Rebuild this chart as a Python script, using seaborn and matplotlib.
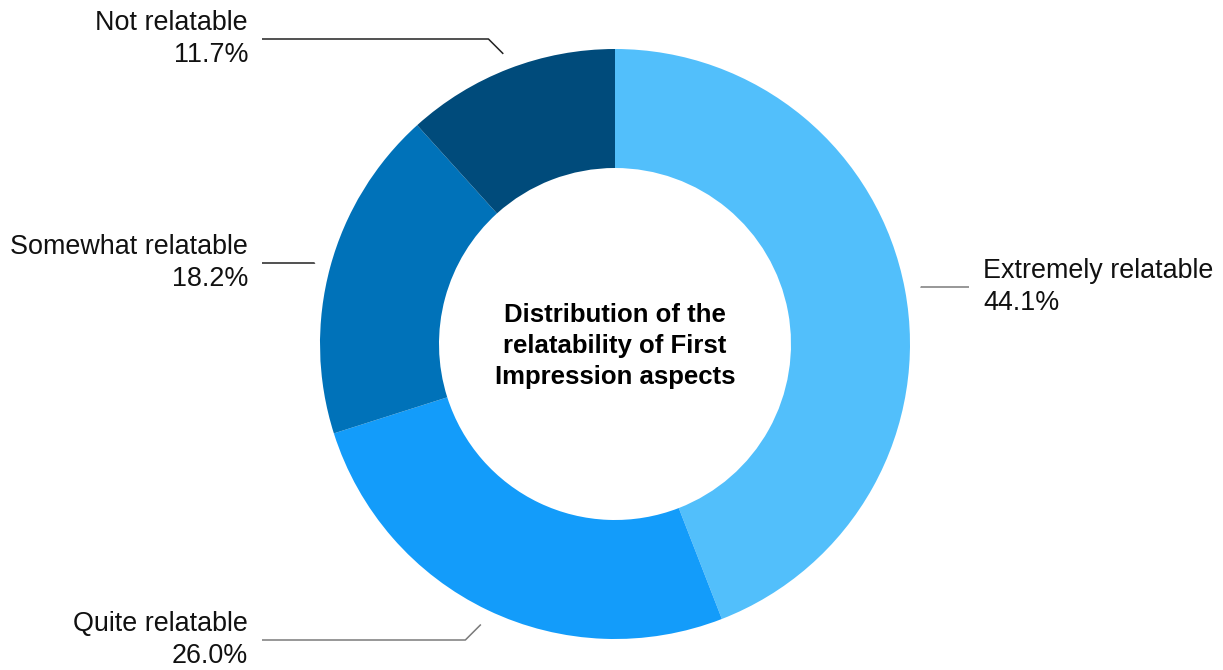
import numpy as np
import matplotlib
matplotlib.use("Agg")
import matplotlib.pyplot as plt
import seaborn as sns

# ---- data ----
categories = ["Extremely relatable", "Quite relatable", "Somewhat relatable", "Not relatable"]
shares = [44.1, 26.0, 18.2, 11.7]
colors = ["#52BFFB", "#139CFA", "#0072B9", "#004B7B"]
center_title = "Distribution of the\nrelatability of First\nImpression aspects"

# ---- layout (pixels, y measured from bottom) ----
W, H = 1223, 670
cx, cy = 615, 670 - 344
R_out, ring = 295, 119
label_y = {"Extremely relatable": 670 - 287, "Quite relatable": 670 - 640,
           "Somewhat relatable": 670 - 263, "Not relatable": 670 - 39}
left_line_end, left_text_x = 262, 248
right_line_end, right_text_x = 969, 983

sns.set_theme(style="white")
plt.rcParams["font.family"] = ["Liberation Sans", "DejaVu Sans"]

fig = plt.figure(figsize=(W / 100, H / 100), dpi=100)
ax = fig.add_axes([0, 0, 1, 1])

wedges, _ = ax.pie(shares, colors=colors, startangle=90, counterclock=False,
                   center=(cx, cy), radius=R_out,
                   wedgeprops=dict(width=ring, linewidth=0), normalize=True)
ax.set_xlim(0, W)
ax.set_ylim(0, H)
ax.set_aspect("equal")
ax.axis("off")

line_colors = {"Extremely relatable": "#7a7a7a", "Quite relatable": "#7a7a7a",
               "Somewhat relatable": "#222222", "Not relatable": "#222222"}

for w, cat, val in zip(wedges, categories, shares):
    ang = np.deg2rad((w.theta1 + w.theta2) / 2)
    ax_ = cx + R_out * 1.054 * np.cos(ang)
    ay_ = cy + R_out * 1.054 * np.sin(ang)
    ly = label_y[cat]
    dy = abs(ly - ay_)
    right = np.cos(ang) > 0
    sgn = 1 if right else -1
    ex = ax_ + sgn * dy
    end = right_line_end if right else left_line_end
    ax.plot([ax_, ex, end], [ay_, ly, ly], color=line_colors[cat], lw=1.1,
            solid_capstyle="butt")
    tx = right_text_x if right else left_text_x
    ax.text(tx, ly, f"{cat}\n{val:.1f}%", ha="left" if right else "right",
            va="center", fontsize=19.4, color="#111111", linespacing=1.3,
            multialignment="left" if right else "right")

ax.text(cx, cy - 2, center_title, ha="center", va="center", fontsize=18.5,
        fontweight="bold", color="black", linespacing=1.35)

fig.savefig("out.png", dpi=100, facecolor="white")
